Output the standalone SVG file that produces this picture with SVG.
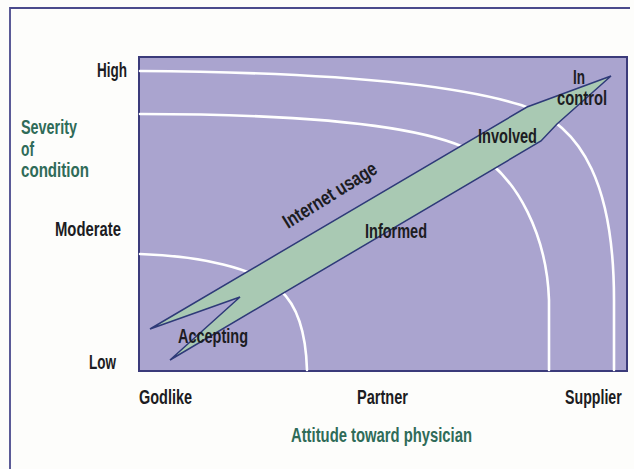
<svg xmlns="http://www.w3.org/2000/svg" width="634" height="469" viewBox="0 0 634 469">
  <style>
    .lbl { font-family: "Liberation Sans Narrow", "Liberation Sans", Arial, sans-serif; font-weight: bold; font-size: 20px; fill: #1c1c22; }
    .ax { font-family: "Liberation Sans Narrow", "Liberation Sans", Arial, sans-serif; font-weight: bold; font-size: 20px; fill: #2f6b58; }
    .curve { fill: none; stroke: #ffffff; stroke-width: 2.6; stroke-linecap: round; }
  </style>
  <rect x="0" y="0" width="634" height="469" fill="#fdfdfb"/>
  <g id="frame">
    <polyline points="10,469 10,8 630,8" fill="none" stroke="#4a4a8c" stroke-width="1.8"/>
  </g>
  <g id="plot">
    <rect x="139" y="57" width="488" height="314" fill="#aaa4cf" stroke="#3b3b7a" stroke-width="2"/>
  </g>
  <g id="curves">
    <path class="curve" d="M140,71 C 300,72 440,80 521,105 C 585,125 614,190 614,300 L 614,370"/>
    <path class="curve" d="M140,114 C 300,114 420,125 470,150 C 520,175 547,240 549,300 L 549,370"/>
    <path class="curve" d="M140,254 C 200,256 255,268 280,290 C 298,306 306,335 307,370"/>
  </g>
  <g id="connectors">
    <polygon id="arrow" points="611,76 557,124 541,141 170,360 240,297 150,329 527,107" fill="#a9c9b3" stroke="#2e3a78" stroke-width="1.5" stroke-linejoin="miter"/>
  </g>
  <g id="y-axis">
    <text class="lbl" x="97" y="77" textLength="30" lengthAdjust="spacingAndGlyphs">High</text>
    <text class="lbl" x="55" y="236" textLength="66" lengthAdjust="spacingAndGlyphs">Moderate</text>
    <text class="lbl" x="89" y="369" textLength="27" lengthAdjust="spacingAndGlyphs">Low</text>
    <text class="ax" x="21" y="134" textLength="56" lengthAdjust="spacingAndGlyphs">Severity</text>
    <text class="ax" x="21" y="156" textLength="13" lengthAdjust="spacingAndGlyphs">of</text>
    <text class="ax" x="21" y="177" textLength="68" lengthAdjust="spacingAndGlyphs">condition</text>
  </g>
  <g id="x-axis">
    <text class="lbl" x="139" y="404" textLength="53" lengthAdjust="spacingAndGlyphs">Godlike</text>
    <text class="lbl" x="357" y="404" textLength="51" lengthAdjust="spacingAndGlyphs">Partner</text>
    <text class="lbl" x="0" y="0" transform="translate(565 404) scale(0.71 1)">Supplier</text>
    <text class="ax" x="291" y="442" textLength="181" lengthAdjust="spacingAndGlyphs">Attitude toward physician</text>
  </g>
  <g id="stages">
    <text class="lbl" x="178" y="343" textLength="70" lengthAdjust="spacingAndGlyphs">Accepting</text>
    <text class="lbl" x="365" y="238" textLength="62" lengthAdjust="spacingAndGlyphs">Informed</text>
    <text class="lbl" x="478" y="143" textLength="59" lengthAdjust="spacingAndGlyphs">Involved</text>
    <text class="lbl" x="573" y="84" textLength="12" lengthAdjust="spacingAndGlyphs">In</text>
    <text class="lbl" x="557" y="105" textLength="50" lengthAdjust="spacingAndGlyphs">control</text>
    <text class="lbl" x="288" y="229" textLength="107" lengthAdjust="spacingAndGlyphs" transform="rotate(-32 288 229)">Internet usage</text>
  </g>
</svg>
